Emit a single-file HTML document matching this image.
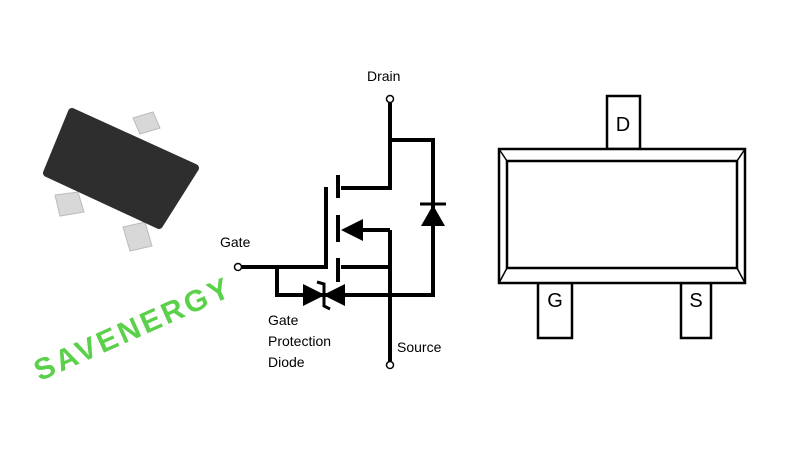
<!DOCTYPE html>
<html><head><style>
html,body{margin:0;padding:0;background:#fff;}
body{width:800px;height:450px;overflow:hidden;position:relative;font-family:"Liberation Sans",sans-serif;}
</style></head><body>
<svg width="800" height="450" viewBox="0 0 800 450" xmlns="http://www.w3.org/2000/svg">
<!-- chip -->
<polygon points="133,118 153,112 160,128 140,134" fill="#d8d8d8" stroke="#bbb"/>
<polygon points="55,195 78,192 84,212 60,216" fill="#d8d8d8" stroke="#bbb"/>
<polygon points="123,227 145,222 152,246 130,251" fill="#d8d8d8" stroke="#bbb"/>
<polygon points="72,112 195,168 159,225 47,173" fill="#2e2e2e" stroke="#2e2e2e" stroke-width="8" stroke-linejoin="round"/>
<text x="0" y="0" transform="translate(137,338) rotate(-24)" text-anchor="middle" font-size="30" font-weight="bold" fill="#5bd04a" letter-spacing="3">SAVENERGY</text>

<!-- schematic -->
<g stroke="#000" fill="none" stroke-width="4">
<path d="M390,103 V188 H341"/>
<path d="M390,140 H433 V295 H277 V267"/>
<path d="M390,230 H355"/>
<path d="M390,230 V361"/>
<path d="M341,267 H390"/>
<path d="M242,267 H326 V187"/>
<path d="M338,175 V198 M338,215 V242 M338,258 V282"/>
</g>
<polygon points="341,230 363,219 363,241" fill="#000"/>
<polygon points="433,205 421,226 445,226" fill="#000"/>
<line x1="420" y1="204" x2="446" y2="204" stroke="#000" stroke-width="3"/>
<polygon points="325,295 303,284 303,306" fill="#000"/>
<polygon points="323,295 345,284 345,306" fill="#000"/>
<path d="M317,282 L324,284 L324,306 L330,309" stroke="#000" stroke-width="3" fill="none"/>
<g fill="#fff" stroke="#000" stroke-width="1.5">
<circle cx="390" cy="99" r="3.5"/>
<circle cx="238" cy="267" r="3.5"/>
<circle cx="390" cy="365" r="3.5"/>
</g>
<g font-size="14" fill="#000">
<text x="367" y="81">Drain</text>
<text x="220" y="247">Gate</text>
<text x="268" y="325">Gate</text>
<text x="268" y="346">Protection</text>
<text x="268" y="367">Diode</text>
<text x="397" y="352">Source</text>
</g>

<!-- package -->
<g stroke="#000" fill="#fff" stroke-width="2.5">
<rect x="607" y="96" width="33" height="53"/>
<rect x="538" y="283" width="34" height="55"/>
<rect x="681" y="283" width="30" height="55"/>
<rect x="499" y="149" width="246" height="134"/>
<rect x="507" y="161" width="230" height="107"/>
</g>
<g stroke="#000" stroke-width="1.5"><line x1="499" y1="149" x2="507" y2="161"/><line x1="745" y1="149" x2="737" y2="161"/><line x1="499" y1="283" x2="507" y2="268"/><line x1="745" y1="283" x2="737" y2="268"/></g>
<g font-size="20" fill="#000" text-anchor="middle">
<text x="623" y="131">D</text>
<text x="555" y="307">G</text>
<text x="696" y="307">S</text>
</g>
</svg>
</body></html>
